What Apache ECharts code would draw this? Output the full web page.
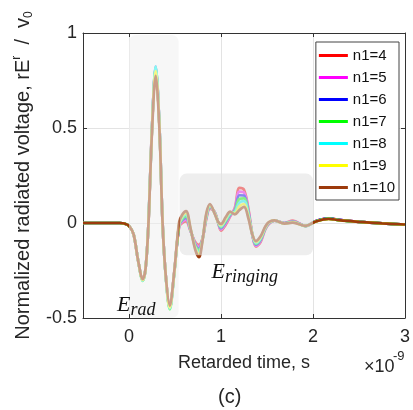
<!DOCTYPE html>
<html>
<head>
<meta charset="utf-8">
<script src="https://cdn.jsdelivr.net/npm/echarts@6/dist/echarts.min.js"></script>
<style>
  html, body { margin: 0; padding: 0; background: #ffffff; }
  #chart { width: 413px; height: 410px; }
</style>
</head>
<body>
<div id="chart"></div>
<script>
// Retarded time samples (units of 1e-9 s)
const times = [-0.5, -0.2, -0.1, -0.05, 0, 0.05, 0.1, 0.15, 0.18, 0.21,
  0.25, 0.29, 0.33, 0.365, 0.40, 0.443, 0.49, 0.545, 0.58, 0.62,
  0.67, 0.72, 0.76, 0.80, 0.84, 0.88, 0.93, 0.97, 1.00, 1.05,
  1.10, 1.15, 1.20, 1.25, 1.30, 1.34, 1.38, 1.43, 1.48, 1.52,
  1.58, 1.69, 1.78, 1.92, 2.03, 2.17, 2.28, 2.50, 2.75, 3.00];

// Normalized radiated voltage for each n1
const n1_4 = [0, 0, 0, -0.003, -0.015, -0.06, -0.2, -0.3, -0.24, -0.02,
  0.5, 0.81, 0.52, 0.0, -0.28, -0.445, -0.27, -0.02, 0.0, 0.008,
  -0.045, -0.10, -0.115, -0.08, 0.02, 0.075, 0.06, 0.0, -0.04, -0.01,
  0.035, 0.08, 0.185, 0.175, 0.07, -0.06, -0.125, -0.10, -0.035, -0.005,
  0.012, 0.0, 0.012, -0.015, 0.01, 0.025, 0.016, 0.006, -0.002, -0.008];
const n1_5 = [0, 0, 0, -0.003, -0.015, -0.06, -0.2, -0.3, -0.24, -0.02,
  0.5, 0.825, 0.52, 0.0, -0.28, -0.445, -0.27, -0.017, 0.008, 0.018,
  -0.042, -0.107, -0.125, -0.082, 0.025, 0.079, 0.058, 0.001, -0.034, -0.003,
  0.039, 0.074, 0.165, 0.16, 0.062, -0.06, -0.12, -0.095, -0.033, -0.003,
  0.013, -0.001, 0.01, -0.015, 0.01, 0.024, 0.016, 0.006, -0.002, -0.008];
const n1_6 = [0, 0, 0, -0.003, -0.015, -0.06, -0.2, -0.3, -0.24, -0.02,
  0.5, 0.815, 0.52, 0.0, -0.28, -0.448, -0.27, -0.013, 0.015, 0.027,
  -0.04, -0.113, -0.135, -0.083, 0.03, 0.083, 0.057, 0.002, -0.028, 0.003,
  0.043, 0.068, 0.146, 0.145, 0.053, -0.06, -0.115, -0.09, -0.03, -0.001,
  0.013, -0.001, 0.008, -0.016, 0.009, 0.024, 0.016, 0.006, -0.002, -0.008];
const n1_7 = [0, 0, 0, -0.003, -0.015, -0.06, -0.2, -0.305, -0.24, -0.02,
  0.5, 0.82, 0.52, 0.0, -0.285, -0.455, -0.275, -0.01, 0.022, 0.036,
  -0.037, -0.12, -0.145, -0.085, 0.035, 0.087, 0.055, 0.003, -0.022, 0.01,
  0.047, 0.062, 0.127, 0.13, 0.045, -0.058, -0.11, -0.085, -0.028, 0.001,
  0.013, -0.002, 0.006, -0.016, 0.009, 0.023, 0.015, 0.006, -0.002, -0.008];
const n1_8 = [0, 0, 0, -0.003, -0.015, -0.06, -0.2, -0.303, -0.24, -0.02,
  0.5, 0.825, 0.52, 0.0, -0.283, -0.45, -0.273, -0.007, 0.03, 0.045,
  -0.035, -0.127, -0.156, -0.087, 0.04, 0.092, 0.053, 0.003, -0.017, 0.017,
  0.052, 0.057, 0.107, 0.115, 0.037, -0.058, -0.105, -0.08, -0.025, 0.002,
  0.014, -0.002, 0.004, -0.015, 0.009, 0.023, 0.015, 0.006, -0.002, -0.008];
const n1_9 = [0, 0, 0, -0.003, -0.015, -0.06, -0.2, -0.3, -0.24, -0.02,
  0.49, 0.80, 0.51, 0.0, -0.28, -0.445, -0.27, -0.003, 0.038, 0.054,
  -0.032, -0.133, -0.167, -0.088, 0.045, 0.096, 0.052, 0.004, -0.011, 0.023,
  0.056, 0.051, 0.088, 0.10, 0.028, -0.058, -0.10, -0.075, -0.023, 0.003,
  0.014, -0.003, 0.003, -0.015, 0.008, 0.022, 0.015, 0.006, -0.002, -0.008];
const n1_10 = [0, 0, 0, -0.003, -0.015, -0.06, -0.2, -0.295, -0.24, -0.02,
  0.48, 0.775, 0.50, 0.0, -0.28, -0.435, -0.265, 0.005, 0.045, 0.063,
  -0.03, -0.14, -0.18, -0.09, 0.05, 0.10, 0.05, 0.005, -0.005, 0.03,
  0.06, 0.045, 0.068, 0.085, 0.02, -0.06, -0.095, -0.07, -0.02, 0.005,
  0.014, -0.003, 0.002, -0.015, 0.008, 0.022, 0.015, 0.006, -0.002, -0.008];

const seriesNames = ['n1=4', 'n1=5', 'n1=6', 'n1=7', 'n1=8', 'n1=9', 'n1=10'];
const seriesValues = [n1_4, n1_5, n1_6, n1_7, n1_8, n1_9, n1_10];

// Axis ticks
const xTickValues = [0, 1, 2, 3];
const yTickValues = [-0.5, 0, 0.5, 1];

// Highlighted time windows
const regionLabels = ['rad', 'ringing'];
const regionStart = [0, 0.55];
const regionEnd = [0.54, 2.0];
const regionLow = [-0.5, -0.17];
const regionHigh = [0.99, 0.26];

const lineColors = ['#ff0000', '#ff00ff', '#0000ff', '#00ff00', '#00ffff', '#ffff00', '#9c3a0c'];
const regionFills = ['rgba(240,240,240,0.55)', 'rgba(226,226,226,0.6)'];
const SANS = "'Liberation Sans', Arial, Helvetica, sans-serif";
const SERIF = "'Liberation Serif', 'DejaVu Serif', serif";
const AXIS_COLOR = '#333333';

const chart = echarts.init(document.getElementById('chart'), null, { renderer: 'canvas' });

const lineSeries = seriesNames.map((name, i) => ({
  type: 'line',
  name: name,
  xAxisIndex: 0,
  yAxisIndex: 0,
  data: times.map((t, k) => [t, seriesValues[i][k]]),
  showSymbol: false,
  symbol: 'none',
  smooth: 0.35,
  lineStyle: { width: 2.7, color: lineColors[i] },
  itemStyle: { color: lineColors[i] },
  z: 2,
  silent: true
}));

const regionSeries = {
  type: 'custom',
  xAxisIndex: 0,
  yAxisIndex: 0,
  z: 5,
  silent: true,
  clip: false,
  data: regionLabels.map((lab, i) => [regionStart[i], regionEnd[i], regionLow[i], regionHigh[i], i]),
  encode: { x: [0, 1], y: [2, 3] },
  renderItem: function (params, api) {
    const idx = api.value(4);
    const tl = api.coord([api.value(0), api.value(3)]);
    const br = api.coord([api.value(1), api.value(2)]);
    const label = regionLabels[idx];
    let tx, ty;
    if (idx === 0) {
      tx = tl[0] - 12;
      ty = br[1] - 27;
    } else {
      tx = tl[0] + 32;
      ty = br[1] + 3;
    }
    return {
      type: 'group',
      children: [
        {
          type: 'rect',
          shape: { x: tl[0], y: tl[1], width: br[0] - tl[0], height: br[1] - tl[1], r: 7 },
          style: { fill: regionFills[idx] }
        },
        {
          type: 'text',
          x: tx,
          y: ty,
          style: {
            text: '{e|E}{s|' + label + '}',
            align: 'left',
            verticalAlign: 'top',
            rich: {
              e: { fontFamily: SERIF, fontStyle: 'italic', fontSize: 22, lineHeight: 28, verticalAlign: 'middle', fill: '#111' },
              s: { fontFamily: SERIF, fontStyle: 'italic', fontSize: 18, lineHeight: 10, verticalAlign: 'bottom', fill: '#111' }
            }
          }
        }
      ]
    };
  }
};

const option = {
  animation: false,
  backgroundColor: '#ffffff',
  grid: { left: 83, right: 7, top: 33, bottom: 92 },
  legend: {
    orient: 'vertical',
    right: 14,
    top: 42,
    data: seriesNames,
    icon: 'rect',
    itemWidth: 29,
    itemHeight: 3,
    itemGap: 7,
    padding: [6, 4, 5, 3],
    backgroundColor: '#ffffff',
    borderColor: '#444444',
    borderWidth: 1,
    borderRadius: 0,
    textStyle: { fontFamily: SANS, fontSize: 15, lineHeight: 15, color: '#111' }
  },
  xAxis: [
    {
      type: 'value',
      position: 'bottom',
      min: -0.5,
      max: 3,
      name: 'Retarded time, s',
      nameLocation: 'middle',
      nameGap: 36,
      nameTextStyle: { fontFamily: SANS, fontSize: 18, color: '#262626' },
      axisLine: { show: true, onZero: false, lineStyle: { color: AXIS_COLOR, width: 1 } },
      axisTick: { show: true, inside: true, length: 4, customValues: xTickValues, lineStyle: { color: AXIS_COLOR } },
      axisLabel: { customValues: xTickValues, margin: 10, fontFamily: SANS, fontSize: 18, color: '#262626' },
      splitLine: { show: true, lineStyle: { color: '#e3e3e3', width: 1 } }
    },
    {
      type: 'value',
      position: 'top',
      min: -0.5,
      max: 3,
      axisLine: { show: true, onZero: false, lineStyle: { color: AXIS_COLOR, width: 1 } },
      axisTick: { show: true, inside: true, length: 4, customValues: xTickValues, lineStyle: { color: AXIS_COLOR } },
      axisLabel: { show: false },
      splitLine: { show: false }
    }
  ],
  yAxis: [
    {
      type: 'value',
      position: 'left',
      min: -0.5,
      max: 1,
      interval: 0.5,
      name: '{a|Normalized radiated voltage, rE}{sup|r}{a|  /  v}{sub|0}',
      nameLocation: 'middle',
      nameGap: 37,
      nameRotate: 90,
      nameTextStyle: {
        color: '#262626',
        rich: {
          a: { fontFamily: SANS, fontSize: 20, lineHeight: 24, verticalAlign: 'middle', color: '#262626' },
          sup: { fontFamily: SANS, fontSize: 12, lineHeight: 12, verticalAlign: 'top', color: '#262626' },
          sub: { fontFamily: SANS, fontSize: 12, lineHeight: 12, verticalAlign: 'bottom', color: '#262626' }
        }
      },
      axisLine: { show: true, onZero: false, lineStyle: { color: AXIS_COLOR, width: 1 } },
      axisTick: { show: true, inside: true, length: 4, lineStyle: { color: AXIS_COLOR } },
      axisLabel: { margin: 6, fontFamily: SANS, fontSize: 18, color: '#262626' },
      splitLine: { show: true, lineStyle: { color: '#e3e3e3', width: 1 } }
    },
    {
      type: 'value',
      position: 'right',
      min: -0.5,
      max: 1,
      interval: 0.5,
      axisLine: { show: true, onZero: false, lineStyle: { color: AXIS_COLOR, width: 1 } },
      axisTick: { show: true, inside: true, length: 4, lineStyle: { color: AXIS_COLOR } },
      axisLabel: { show: false },
      splitLine: { show: false }
    }
  ],
  graphic: [
    {
      type: 'text',
      left: 364,
      top: 358,
      style: { text: '\u00d710', font: "18px 'Liberation Sans', Arial, sans-serif", fill: '#262626' }
    },
    {
      type: 'text',
      left: 393,
      top: 350,
      style: { text: '-9', font: "13px 'Liberation Sans', Arial, sans-serif", fill: '#262626' }
    },
    {
      type: 'text',
      left: 218,
      top: 387,
      style: { text: '(c)', font: "20px 'Liberation Sans', Arial, sans-serif", fill: '#262626' }
    }
  ],
  series: lineSeries.concat([regionSeries])
};

chart.setOption(option);
</script>
</body>
</html>
